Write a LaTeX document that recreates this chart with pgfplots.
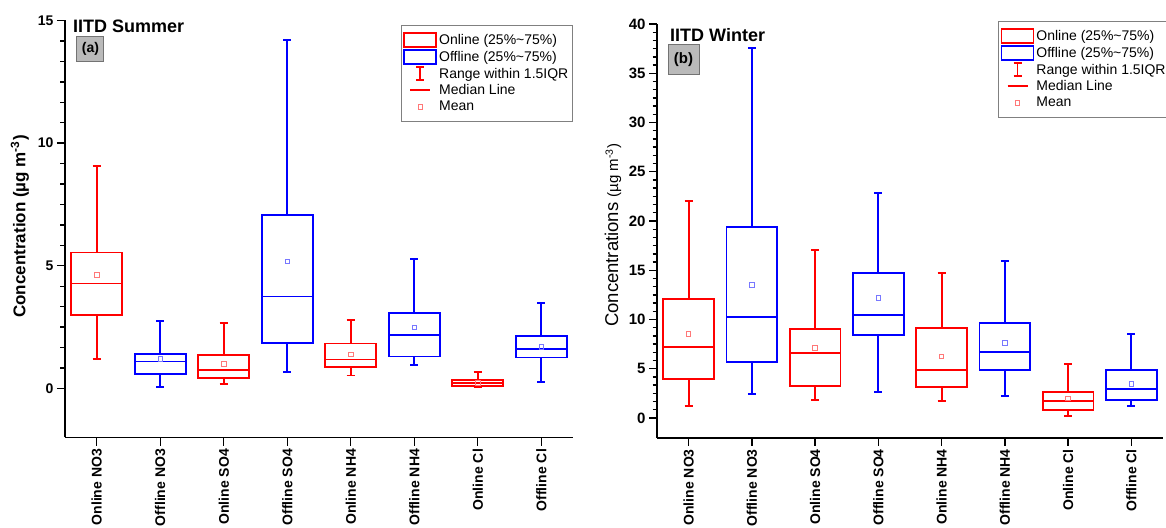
\documentclass[border=0pt]{standalone}
\usepackage{pgfplots}
\pgfplotsset{compat=1.18}
\usepgfplotslibrary{statistics}
\usepackage{fontspec}
\setmainfont{Liberation Sans}

\definecolor{meanred}{RGB}{255,120,120}
\definecolor{meanblue}{RGB}{120,120,255}

\pgfplotsset{
  panel/.style={
    scale only axis,
    axis x line=bottom, axis y line=left,
    axis line style={line width=1.8pt,-},
    xmin=0.5, xmax=8.5,
    xtick={1,...,8},
    xticklabels={Online NO3,Offline NO3,Online SO4,Offline SO4,Online NH4,Offline NH4,Online Cl,Offline Cl},
    xticklabel style={rotate=90, anchor=east, font=\fontsize{14}{14}\selectfont\bfseries},
    yticklabel style={font=\fontsize{14}{14}\selectfont\bfseries},
    /pgf/number format/assume math mode=true,
    tick align=outside,
    major tick length=8pt, minor tick length=4.5pt,
    tick style={black, line width=1.4pt},
    minor y tick num=5,
    clip=false,
    boxplot/draw direction=y,
    boxplot/box extend=0.8,
    boxplot/whisker extend=0.13,
    boxplot/every median/.style={line width=1.8pt},
    legend cell align=left,
    legend style={draw=black!50, line width=1.2pt, font=\fontsize{14}{17}\selectfont,
      inner xsep=2pt, inner ysep=7pt, row sep=1pt},
  },
  onl/.style={draw=red, line width=1.8pt, solid, forget plot},
  ofl/.style={draw=blue, line width=1.8pt, solid, forget plot},
  mred/.style={only marks, mark=square, mark size=2.3pt, draw=meanred, line width=0.9pt, forget plot},
  mblue/.style={only marks, mark=square, mark size=2.3pt, draw=meanblue, line width=0.9pt, forget plot},
}

\newcommand{\mylegend}{%
  \addlegendimage{legend image code/.code={\draw[red, line width=1.8pt] (0pt,-7pt) rectangle (32pt,7pt);}}
  \addlegendentry{Online (25\%\textasciitilde75\%)}
  \addlegendimage{legend image code/.code={\draw[blue, line width=1.8pt] (0pt,-7pt) rectangle (32pt,7pt);}}
  \addlegendentry{Offline (25\%\textasciitilde75\%)}
  \addlegendimage{legend image code/.code={\path[draw=none,fill=none] (0pt,0pt) -- (32pt,0pt);
      \draw[red, line width=1.8pt] (16pt,-6.5pt) -- (16pt,6.5pt) (12pt,-6.5pt) -- (20pt,-6.5pt) (12pt,6.5pt) -- (20pt,6.5pt);}}
  \addlegendentry{Range within 1.5IQR}
  \addlegendimage{legend image code/.code={\path[draw=none,fill=none] (0pt,0pt) -- (32pt,0pt);
      \draw[red, line width=1.8pt] (6pt,0pt) -- (26pt,0pt);}}
  \addlegendentry{Median Line}
  \addlegendimage{legend image code/.code={\path[draw=none,fill=none] (0pt,0pt) -- (32pt,0pt);
      \draw[meanred, line width=0.9pt] (13.7pt,-2.3pt) rectangle (18.3pt,2.3pt);}}
  \addlegendentry{Mean}
}

\begin{document}
\begin{tikzpicture}
\path[use as bounding box] (0pt,0pt) rectangle (1166pt,527pt);

% ---------------- (a) Summer ----------------
\begin{axis}[panel, at={(65pt,89.5pt)}, anchor=south west, width=508pt, height=417pt,
  ymin=-2, ymax=15, ytick={0,5,10,15},
  ylabel={Concentration (µg m\textsuperscript{-3})},
  ylabel style={font=\fontsize{17}{17}\selectfont\bfseries, at={(axis description cs:-0.0886,0.506)}, anchor=center},
  legend style={at={(0.661,0.990)}, anchor=north west}]
\mylegend
\addplot[onl, boxplot prepared={draw position=1, lower whisker=1.21, lower quartile=3.0, median=4.28, upper quartile=5.54, upper whisker=9.07}] coordinates {};
\addplot[ofl, boxplot prepared={draw position=2, lower whisker=0.05, lower quartile=0.58, median=1.10, upper quartile=1.42, upper whisker=2.74}] coordinates {};
\addplot[onl, boxplot prepared={draw position=3, lower whisker=0.19, lower quartile=0.43, median=0.74, upper quartile=1.37, upper whisker=2.68}] coordinates {};
\addplot[ofl, boxplot prepared={draw position=4, lower whisker=0.68, lower quartile=1.86, median=3.75, upper quartile=7.07, upper whisker=14.19}] coordinates {};
\addplot[onl, boxplot prepared={draw position=5, lower whisker=0.53, lower quartile=0.88, median=1.18, upper quartile=1.83, upper whisker=2.80}] coordinates {};
\addplot[ofl, boxplot prepared={draw position=6, lower whisker=0.96, lower quartile=1.30, median=2.18, upper quartile=3.08, upper whisker=5.27}] coordinates {};
\addplot[onl, boxplot prepared={draw position=7, lower whisker=0.04, lower quartile=0.09, median=0.23, upper quartile=0.35, upper whisker=0.66}] coordinates {};
\addplot[ofl, boxplot prepared={draw position=8, lower whisker=0.27, lower quartile=1.26, median=1.61, upper quartile=2.13, upper whisker=3.48}] coordinates {};
\addplot[mred] coordinates {(1,4.62) (3,0.99) (5,1.38) (7,0.22)};
\addplot[mblue] coordinates {(2,1.21) (4,5.17) (6,2.48) (8,1.70)};
\node[anchor=base west, inner sep=0pt, font=\fontsize{18}{18}\selectfont\bfseries] at (axis description cs:0.0157,0.972) {IITD Summer};
\node[draw=black!55, fill=black!27, line width=1pt, minimum width=27pt, minimum height=25pt, inner sep=0pt, font=\fontsize{14}{14}\selectfont\bfseries] at (axis description cs:0.050,0.932) {(a)};
\end{axis}

% ---------------- (b) Winter ----------------
\begin{axis}[panel, at={(657pt,89.3pt)}, anchor=south west, width=506pt, height=413.7pt,
  ymin=-2, ymax=40, ytick={0,5,...,40},
  yticklabel style={font=\fontsize{15}{15}\selectfont\bfseries},
  ylabel={\fontsize{18.5}{19}\selectfont Concentrations \fontsize{15}{15}\selectfont(µg m\textsuperscript{-3})},
  ylabel style={at={(axis description cs:-0.087,0.489)}, anchor=center},
  legend style={at={(0.674,1.008)}, anchor=north west}]
\mylegend
\addplot[onl, boxplot prepared={draw position=1, lower whisker=1.25, lower quartile=3.93, median=7.24, upper quartile=12.08, upper whisker=22.03}] coordinates {};
\addplot[ofl, boxplot prepared={draw position=2, lower whisker=2.40, lower quartile=5.72, median=10.22, upper quartile=19.36, upper whisker=37.6}] coordinates {};
\addplot[onl, boxplot prepared={draw position=3, lower whisker=1.83, lower quartile=3.25, median=6.56, upper quartile=9.04, upper whisker=17.06}] coordinates {};
\addplot[ofl, boxplot prepared={draw position=4, lower whisker=2.61, lower quartile=8.39, median=10.49, upper quartile=14.69, upper whisker=22.84}] coordinates {};
\addplot[onl, boxplot prepared={draw position=5, lower whisker=1.76, lower quartile=3.15, median=4.84, upper quartile=9.17, upper whisker=14.69}] coordinates {};
\addplot[ofl, boxplot prepared={draw position=6, lower whisker=2.23, lower quartile=4.87, median=6.70, upper quartile=9.64, upper whisker=15.9}] coordinates {};
\addplot[onl, boxplot prepared={draw position=7, lower whisker=0.20, lower quartile=0.80, median=1.70, upper quartile=2.64, upper whisker=5.48}] coordinates {};
\addplot[ofl, boxplot prepared={draw position=8, lower whisker=1.20, lower quartile=1.83, median=2.94, upper quartile=4.87, upper whisker=8.5}] coordinates {};
\addplot[mred] coordinates {(1,8.53) (3,7.11) (5,6.26) (7,2.0)};
\addplot[mblue] coordinates {(2,13.5) (4,12.2) (6,7.6) (8,3.45)};
\node[anchor=base west, inner sep=0pt, font=\fontsize{18}{18}\selectfont\bfseries] at (axis description cs:0.0257,0.957) {IITD Winter};
\node[draw=black!55, fill=black!27, line width=1pt, minimum width=31pt, minimum height=30pt, inner sep=0pt, font=\fontsize{15}{15}\selectfont\bfseries] at (axis description cs:0.0524,0.913) {(b)};
\end{axis}
\end{tikzpicture}
\end{document}
